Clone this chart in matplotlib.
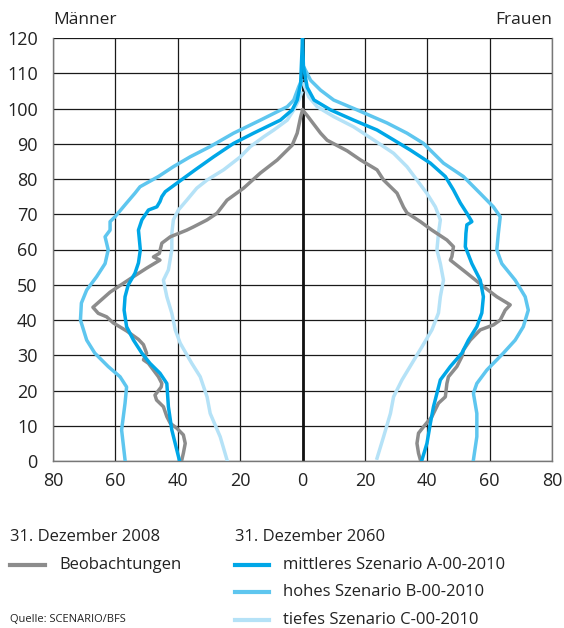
import matplotlib
matplotlib.use('Agg')
import matplotlib.pyplot as plt
from matplotlib.lines import Line2D

# Beobachtungen 2008 (Alter, Tausend Personen)
obs_m_age = [0.3, 2.2, 5, 7.4, 9.3, 10.7, 12.6, 15.4, 17.3, 18.7, 21, 22, 23.9, 25.8, 27.7, 28.7,
             30.6, 33, 34.5, 36.9, 39.2, 40.9, 41.9, 43.6, 47.9, 52.3, 54.7, 57, 57.9, 58.9, 61.8,
             63.6, 65.5, 66.4, 68.4, 70.3, 74, 77.4, 81.7, 85.4, 89.6, 93, 97.6, 99.5]
obs_m_val = [38.7, 38.2, 37.6, 38.2, 40.3, 42.4, 43.5, 44.6, 46.8, 47.3, 45.3, 45.1, 46.2, 47.8, 49.4, 51,
             50, 51, 52.6, 56.4, 60.7, 62.8, 65.5, 67.2, 61.7, 54.2, 50, 45.7, 47.8, 45.9, 45.1,
             42.4, 37.1, 35, 30.6, 27.4, 24.2, 18.9, 13.5, 8.1, 3.3, 1.7, 0.6, 0]
obs_f_age = [0.3, 2.2, 5, 7.9, 9.7, 12.6, 16.4, 18.2, 22, 23.9, 26.8, 29.6, 31.5, 34.3, 37.2, 38.6,
             40, 42.8, 44.3, 46.6, 49.5, 53.3, 57, 58, 60.8, 62.7, 65.5, 67.9, 70.4, 72, 76, 79.7,
             82.6, 85.4, 88, 91, 93, 98, 99.6]
obs_f_val = [37.8, 37.2, 36.7, 37.2, 38.8, 41.5, 43.6, 45.8, 46.3, 46.8, 49.5, 51.1, 51.6, 53.8, 57, 61.2,
             63.4, 65, 66.6, 62.3, 58, 52.7, 47.4, 47.9, 48.4, 46.3, 41.5, 37.8, 33.5, 32.4, 30.3, 26,
             23.9, 18.6, 14.3, 7.9, 5.8, 1.5, 0]

# mittleres Szenario A-00-2010
a_m_age = [0.3, 8.8, 15.4, 22, 24.9, 27.7, 30.6, 34.3, 38.1, 42.8, 46.6, 49.9, 53.3, 56.2, 59.9, 65.5,
           68.4, 71.2, 72.1, 73.6, 75, 76.4, 78.8, 82.6, 86.3, 90.1, 93, 96.7, 99.6, 102.4, 107, 120]
a_m_val = [39.5, 41.9, 43, 43.5, 45.7, 48.9, 51.5, 54.2, 56.4, 57.2, 56.9, 55.9, 53.7, 52.6, 52, 52.6,
           51.5, 49.4, 46.7, 45.7, 45.1, 44, 40.3, 34.4, 28.5, 22.1, 15.7, 7.1, 3.3, 1.7, 0.6, 0]
a_f_age = [0.3, 5, 10.7, 15.4, 19.2, 23, 26.8, 30.6, 34.3, 38.1, 42, 46.6, 51.3, 56, 60.8, 64.6,
           67, 67.9, 70.3, 73.2, 76.9, 80.7, 84.5, 88.2, 91.1, 93.9, 96.7, 99.6, 102.4, 106, 112, 120]
a_f_val = [38.3, 39.9, 41, 42, 43.1, 44.2, 47.4, 51.1, 53.2, 55.9, 57.5, 58, 57, 54.3, 52.2, 52.4,
           52.7, 54.3, 52.7, 50.6, 48.4, 45.8, 41, 34.6, 29.2, 23.9, 16.4, 9, 3.7, 1.5, 0.3, 0]

# hohes Szenario B-00-2010
b_m_age = [0.3, 8.8, 16.4, 21, 23.9, 26.8, 30.6, 34.3, 40, 44.8, 48.5, 52.3, 56, 59.9, 63.6, 65.5,
           67.9, 69.3, 73.2, 76, 77.8, 80.7, 83.5, 86.3, 89.2, 93, 96.7, 100.5, 102.4, 106.2, 108]
b_m_val = [56.9, 58, 56.9, 56.4, 58.5, 62.3, 66.6, 69.2, 71.2, 70.9, 69.2, 66, 63.3, 62.3, 63.3, 61.7,
           61.7, 60.1, 56.4, 53.7, 52.1, 46.2, 41.4, 36, 29.6, 22.1, 13.5, 4.9, 2.8, 1.2, 0.3]
b_f_age = [0.3, 6.9, 13.5, 19.2, 22, 25.8, 30.6, 34.3, 38.1, 42.8, 46.6, 51.3, 56, 59.9, 64.6, 69.3,
           72.1, 75.9, 80.7, 84.5, 87.3, 90.1, 93, 95.9, 99.6, 102.4, 105.2, 108, 112]
b_f_val = [54.8, 55.9, 55.9, 54.8, 55.9, 59.1, 64.4, 68.2, 70.8, 72.4, 71.4, 68.2, 63.9, 62.3, 62.8, 63.4,
           61.2, 57, 51.6, 45.2, 42, 38.8, 33.5, 27.1, 17.5, 10, 5.8, 2.6, 0.3]

# tiefes Szenario C-00-2010
c_m_age = [0.3, 6.9, 13.5, 18.2, 23.9, 27.7, 33.4, 37.2, 41.9, 46.6, 51.3, 54.2, 59.9, 64.6, 68.4,
           71.2, 74, 77.4, 79.7, 82.6, 86.3, 89.2, 92, 93.9, 96.7, 99.6, 102.4, 104.4]
c_m_val = [24.2, 26.4, 29.6, 30.6, 32.8, 35.5, 39.2, 40.8, 41.9, 43.5, 44.6, 43, 41.9, 41.9, 41.4,
           39.8, 37.1, 33.9, 30.6, 25.3, 19.9, 16.7, 12.4, 9.2, 4.9, 2.8, 1.2, 0.3]
c_f_age = [0.8, 6.9, 13.5, 18.2, 23, 27.7, 32.4, 37.2, 42, 46.6, 51.3, 56, 59.9, 64.6, 68.4, 72.1,
           75.9, 79.7, 83.5, 87.3, 91.1, 94.8, 97.7, 100.5, 103.3, 107]
c_f_val = [23.9, 26, 28.2, 29.2, 31.9, 35.1, 38.3, 41.5, 43.6, 44.2, 45.2, 44.2, 43.1, 43.6, 44.2, 42.6,
           39.9, 36.7, 33.5, 29.2, 22.8, 16.4, 10, 4.7, 2, 0.3]

x_ticks = [-80, -60, -40, -20, 0, 20, 40, 60, 80]
x_labels = ['80', '60', '40', '20', '0', '20', '40', '60', '80']
y_ticks = list(range(0, 121, 10))

COL_OBS = '#8c8c8c'
COL_A = '#00a7e7'
COL_B = '#5ec6ef'
COL_C = '#b5e2f7'

plt.rcParams['font.family'] = ['Open Sans', 'DejaVu Sans']

fig = plt.figure(figsize=(5.64, 6.28), dpi=100)
ax = fig.add_axes([53 / 564, 1 - 461 / 628, 499 / 564, 423 / 628])

ax.set_xlim(-80, 80)
ax.set_ylim(0, 120)
ax.set_xticks(x_ticks)
ax.set_xticklabels(x_labels)
ax.set_yticks(y_ticks)
ax.tick_params(length=0, labelsize=13, colors='#222222', pad=8)
ax.tick_params(axis='y', pad=11)
ax.grid(True, color='#1a1a1a', linewidth=0.9)
ax.set_axisbelow(True)
for s in ax.spines.values():
    s.set_color('#777777')
    s.set_linewidth(1.0)
ax.spines['top'].set_visible(False)

ax.axvline(0, color='#111111', linewidth=2, zorder=2)

lw = 2.5
series = [
    (c_m_age, c_m_val, c_f_age, c_f_val, COL_C),
    (b_m_age, b_m_val, b_f_age, b_f_val, COL_B),
    (obs_m_age, obs_m_val, obs_f_age, obs_f_val, COL_OBS),
    (a_m_age, a_m_val, a_f_age, a_f_val, COL_A),
]
for m_age, m_val, f_age, f_val, col in series:
    ax.plot([-v for v in m_val], m_age, color=col, linewidth=lw, zorder=3,
            solid_joinstyle='round')
    ax.plot(f_val, f_age, color=col, linewidth=lw, zorder=3, solid_joinstyle='round')

fig.text(53 / 564, 1 - 20 / 628, 'Männer', fontsize=12.5, color='#222222', va='center', ha='left')
fig.text(552 / 564, 1 - 20 / 628, 'Frauen', fontsize=12.5, color='#222222', va='center', ha='right')

# Legende
def legend_line(x0, x1, y, col):
    fig.add_artist(Line2D([x0 / 564, x1 / 564], [1 - y / 628, 1 - y / 628],
                          color=col, linewidth=3, transform=fig.transFigure))

fig.text(10 / 564, 1 - 537 / 628, '31. Dezember 2008', fontsize=12, color='#222222', va='center')
fig.text(235 / 564, 1 - 537 / 628, '31. Dezember 2060', fontsize=12, color='#222222', va='center')

legend_line(10, 45, 565, COL_OBS)
fig.text(59 / 564, 1 - 565 / 628, 'Beobachtungen', fontsize=12, color='#222222', va='center')

rows = [(565, COL_A, 'mittleres Szenario A-00-2010'),
        (592, COL_B, 'hohes Szenario B-00-2010'),
        (620, COL_C, 'tiefes Szenario C-00-2010')]
for y, col, txt in rows:
    legend_line(235, 269, y, col)
    fig.text(283 / 564, 1 - y / 628, txt, fontsize=12, color='#222222', va='center')

fig.text(10 / 564, 1 - 620 / 628, 'Quelle: SCENARIO/BFS', fontsize=8, color='#222222', va='center')

fig.savefig('out.png', dpi=100, facecolor='white')
